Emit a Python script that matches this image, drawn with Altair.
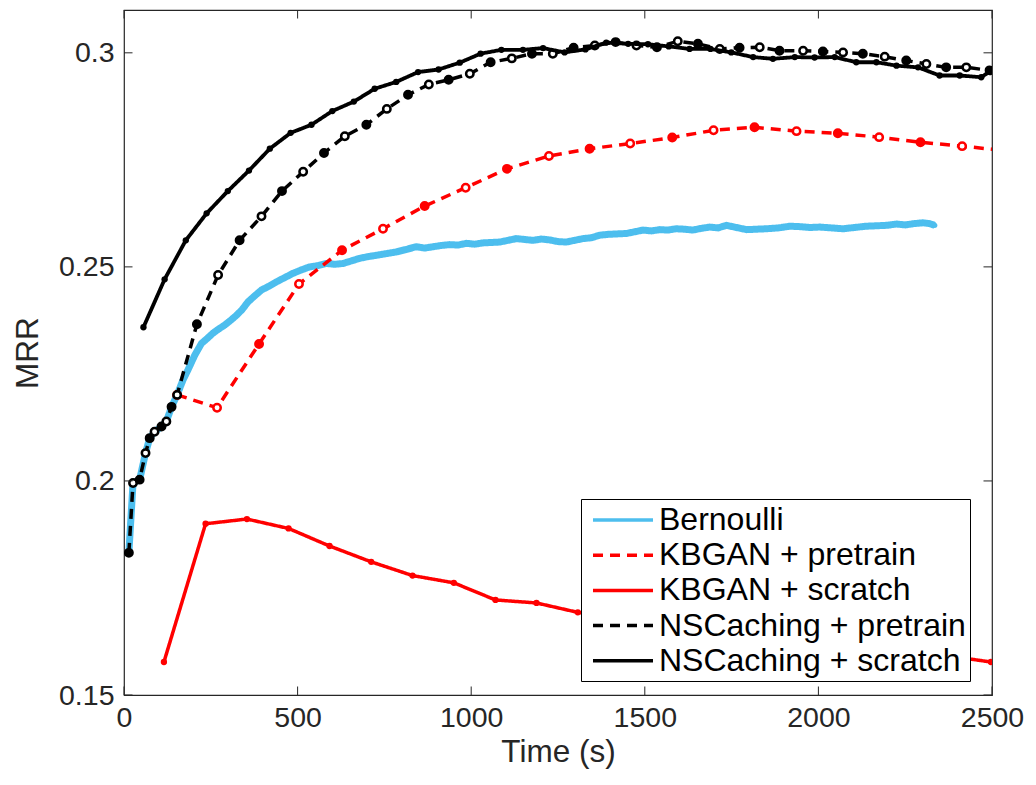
import altair as alt
import pandas as pd

# ---------------- data ----------------
series_names = ["Bernoulli", "KBGAN + pretrain", "KBGAN + scratch",
                "NSCaching + pretrain", "NSCaching + scratch"]
series_colors = ["#4DBEEE", "#FF0000", "#FF0000", "#000000", "#000000"]

x_ticks = [0, 500, 1000, 1500, 2000, 2500]
y_ticks = [0.15, 0.2, 0.25, 0.3]

bern_t = [14, 26, 45, 62, 74, 88, 108, 122, 137, 153, 170, 184, 204, 223, 240, 256, 273,
          290, 307, 324, 340, 357, 376, 396, 418, 439, 463, 487, 511, 535, 559, 583, 607,
          631, 655, 679, 703, 727, 756, 785, 814, 842, 866, 890, 914, 938, 962, 986, 1010,
          1034, 1058, 1082, 1106, 1130, 1154, 1178, 1202, 1226, 1250, 1274, 1298, 1322,
          1346, 1370, 1395, 1420, 1447, 1471, 1495, 1519, 1543, 1567, 1590, 1614, 1638,
          1663, 1687, 1711, 1735, 1764, 1793, 1822, 1850, 1884, 1918, 1946, 1975, 2004,
          2038, 2071, 2104, 2138, 2167, 2196, 2225, 2250, 2275, 2301, 2320, 2335]
bern_v = [0.1832, 0.1995, 0.2003, 0.2065, 0.2100, 0.2115, 0.2127, 0.2139, 0.2173, 0.2201,
          0.2236, 0.2259, 0.2294, 0.2321, 0.2333, 0.2345, 0.2355, 0.2364, 0.2375, 0.2387,
          0.2400, 0.2418, 0.2432, 0.2446, 0.2455, 0.2465, 0.2475, 0.2485, 0.2493, 0.2500,
          0.2503, 0.2508, 0.2506, 0.2508, 0.2514, 0.2520, 0.2524, 0.2527, 0.2531, 0.2535,
          0.2541, 0.2547, 0.2544, 0.2547, 0.2550, 0.2552, 0.2551, 0.2555, 0.2553, 0.2556,
          0.2557, 0.2558, 0.2562, 0.2566, 0.2564, 0.2562, 0.2565, 0.2563, 0.2559, 0.2558,
          0.2562, 0.2566, 0.2568, 0.2574, 0.2576, 0.2577, 0.2578, 0.2582, 0.2586, 0.2584,
          0.2587, 0.2586, 0.2589, 0.2588, 0.2586, 0.2590, 0.2593, 0.2591, 0.2597, 0.2592,
          0.2587, 0.2588, 0.2589, 0.2591, 0.2595, 0.2594, 0.2592, 0.2593, 0.2591, 0.2589,
          0.2592, 0.2595, 0.2596, 0.2597, 0.2600, 0.2598, 0.2601, 0.2603, 0.2601, 0.2597]

kbp_t = [153, 268, 389, 504, 628, 746, 866, 984, 1103, 1224, 1341, 1458, 1579, 1698,
         1816, 1937, 2056, 2175, 2294, 2414, 2533]
kbp_v = [0.2201, 0.2171, 0.2320, 0.2460, 0.2539, 0.2589, 0.2642, 0.2685, 0.2729, 0.2759,
         0.2776, 0.2788, 0.2802, 0.2819, 0.2826, 0.2817, 0.2812, 0.2803, 0.2791, 0.2782,
         0.2772]

kbs_t = [115, 235, 354, 474, 592, 712, 831, 950, 1070, 1188, 1307, 1426, 1545, 1664,
         1783, 1902, 2021, 2140, 2259, 2378, 2497]
kbs_v = [0.1577, 0.1900, 0.1911, 0.1889, 0.1848, 0.1811, 0.1779, 0.1762, 0.1722, 0.1715,
         0.1693, 0.1682, 0.1671, 0.1660, 0.1648, 0.1637, 0.1626, 0.1614, 0.1603, 0.1591,
         0.1577]

nsp_t = [14, 26, 45, 62, 74, 88, 108, 122, 137, 153, 210, 271, 333, 396, 455, 516, 576,
         636, 698, 757, 818, 878, 935, 996, 1056, 1117, 1175, 1235, 1295, 1356, 1416,
         1476, 1535, 1595, 1653, 1716, 1773, 1831, 1888, 1956, 2013, 2071, 2128, 2191,
         2253, 2311, 2368, 2426, 2493]
nsp_v = [0.1832, 0.1995, 0.2003, 0.2065, 0.2100, 0.2115, 0.2127, 0.2139, 0.2173, 0.2201,
         0.2366, 0.2481, 0.2562, 0.2618, 0.2677, 0.2722, 0.2766, 0.2805, 0.2832, 0.2869,
         0.2902, 0.2926, 0.2937, 0.2951, 0.2978, 0.2987, 0.2998, 0.2998, 0.3012, 0.3017,
         0.3025, 0.3017, 0.3013, 0.3027, 0.3021, 0.3009, 0.3012, 0.3013, 0.3005, 0.3005,
         0.3003, 0.3001, 0.2998, 0.2991, 0.2982, 0.2974, 0.2966, 0.2966, 0.2959]

nss_t = [56, 117, 178, 238, 299, 360, 420, 480, 540, 600, 662, 722, 784, 847, 906, 967,
         1027, 1087, 1149, 1207, 1269, 1329, 1389, 1452, 1509, 1569, 1629, 1689, 1749,
         1812, 1869, 1932, 1989, 2047, 2109, 2167, 2225, 2287, 2349, 2407, 2469, 2495]
nss_v = [0.2359, 0.2471, 0.2562, 0.2625, 0.2677, 0.2725, 0.2776, 0.2813, 0.2832, 0.2864,
         0.2886, 0.2916, 0.2932, 0.2955, 0.2961, 0.2977, 0.2998, 0.3007, 0.3007, 0.3011,
         0.3001, 0.3008, 0.3024, 0.3021, 0.3020, 0.3015, 0.3009, 0.3009, 0.3001, 0.2990,
         0.2986, 0.2990, 0.2989, 0.2990, 0.2978, 0.2978, 0.2970, 0.2966, 0.2947, 0.2947,
         0.2943, 0.2957]

series_data = [(bern_t, bern_v), (kbp_t, kbp_v), (kbs_t, kbs_v), (nsp_t, nsp_v), (nss_t, nss_v)]

rows = []
for name, (ts, vs) in zip(series_names, series_data):
    for i, (t, v) in enumerate(zip(ts, vs)):
        rows.append({"series": name, "t": t, "mrr": v, "idx": i})
df = pd.DataFrame(rows)

# ---------------- styling ----------------
FONT = "Liberation Sans"
W, H = 868, 685
AX = "#262626"

x_scale = alt.Scale(domain=[0, 2500], nice=False, zero=False)
y_scale = alt.Scale(domain=[0.15, 0.31], nice=False, zero=False)

x_enc = alt.X("t:Q", scale=x_scale,
              axis=alt.Axis(values=x_ticks, title="Time (s)", grid=False, ticks=False,
                            domain=False, labelFontSize=28.5, titleFontSize=31.5,
                            labelFont=FONT, titleFont=FONT, labelColor=AX, titleColor=AX,
                            titleFontWeight="normal", labelPadding=8, titlePadding=5,
                            format="d", labelFlush=False))
y_enc = alt.Y("mrr:Q", scale=y_scale,
              axis=alt.Axis(values=y_ticks, title="MRR", grid=False, ticks=False,
                            domain=False, labelFontSize=28.5, titleFontSize=31.5,
                            labelFont=FONT, titleFont=FONT, labelColor=AX, titleColor=AX,
                            titleFontWeight="normal", labelPadding=10, titlePadding=14,
                            format=".2~f", labelFlush=False))

dash_range = [[1, 0], [10, 7], [1, 0], [10, 7], [1, 0]]
legend_props = dict(orient="none", legendX=457, legendY=489, title=None,
                    fillColor="white", strokeColor="black", padding=4,
                    labelFontSize=32, labelFont=FONT, labelColor="black", labelLimit=500,
                    symbolType="M-2,0H2", symbolSize=900, symbolStrokeWidth=3.5,
                    symbolOffset=21, rowPadding=2.2, labelOffset=19, cornerRadius=0)

color_enc = alt.Color("series:N", scale=alt.Scale(domain=series_names, range=series_colors),
                      legend=alt.Legend(**legend_props))
dash_enc = alt.StrokeDash("series:N", scale=alt.Scale(domain=series_names, range=dash_range),
                          legend=alt.Legend(**legend_props))

base = alt.Chart(df)

layers = []
line_widths = {"Bernoulli": 7, "KBGAN + pretrain": 3.5, "KBGAN + scratch": 3.5,
               "NSCaching + pretrain": 3.5, "NSCaching + scratch": 3.8}
for name, col in zip(series_names, series_colors):
    sub = base.transform_filter(alt.datum.series == name)
    line = sub.mark_line(clip=True, strokeWidth=line_widths[name]).encode(
        x=x_enc, y=y_enc, color=color_enc, strokeDash=dash_enc, order="t:Q")
    layers.append(line)
    if name == "Bernoulli":
        pts = sub.mark_circle(clip=True, size=28, opacity=1, color=col).encode(x=x_enc, y=y_enc)
    elif "pretrain" in name:
        pts = sub.mark_point(clip=True, shape="circle", size=55, strokeWidth=2.5,
                             opacity=1, color=col).encode(
            x=x_enc, y=y_enc,
            fill=alt.condition("datum.idx % 2 == 1", alt.value("white"), alt.value(col)))
    else:
        pts = sub.mark_circle(clip=True, size=40, opacity=1, color=col).encode(x=x_enc, y=y_enc)
    layers.append(pts)

# inward tick marks on all four sides (MATLAB box style)
xt = alt.Chart(pd.DataFrame({"t": x_ticks}))
yt = alt.Chart(pd.DataFrame({"mrr": y_ticks}))
TL = 8.5
layers += [
    xt.mark_rule(color=AX, strokeWidth=1).encode(x=x_enc, y=alt.value(H), y2=alt.value(H - TL)),
    xt.mark_rule(color=AX, strokeWidth=1).encode(x=x_enc, y=alt.value(0), y2=alt.value(TL)),
    yt.mark_rule(color=AX, strokeWidth=1).encode(y=y_enc, x=alt.value(0), x2=alt.value(TL)),
    yt.mark_rule(color=AX, strokeWidth=1).encode(y=y_enc, x=alt.value(W), x2=alt.value(W - TL)),
]

chart = alt.layer(*layers).properties(
    width=W, height=H,
    autosize=alt.AutoSizeParams(type="none"),
    padding={"left": 116, "top": 2, "right": 36, "bottom": 82},
    background="white",
).configure_view(stroke=AX, strokeWidth=1.2)

chart.save("out.html", embed_options={"renderer": "svg", "actions": False})
